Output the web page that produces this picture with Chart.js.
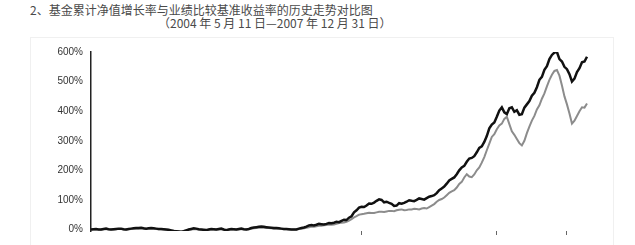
<!DOCTYPE html>
<html><head><meta charset="utf-8">
<script src="https://cdn.jsdelivr.net/npm/chart.js@4/dist/chart.umd.min.js"></script>
<style>
html,body{margin:0;padding:0;background:#fff;width:635px;height:245px;overflow:hidden;}
#wrap{position:relative;width:635px;height:245px;}
.t{position:absolute;font-family:"Noto Sans CJK SC","Noto Sans",sans-serif;font-size:12px;color:#4a4a4a;white-space:nowrap;line-height:14px;}
#frame{position:absolute;left:30px;top:37px;width:582px;height:212px;border:1px solid #f0f0f0;}
canvas{position:absolute;left:0;top:0;}
</style></head>
<body><div id="wrap">
<div id="frame"></div>
<div class="t" style="left:30px;top:3px;">2、基金累计净值增长率与业绩比较基准收益率的历史走势对比图</div>
<div class="t" style="left:158px;top:16px;">（2004 年 5 月 11 日—2007 年 12 月 31 日）</div>
<canvas id="c" width="635" height="245"></canvas>
</div>
<script>
// Series values (cumulative %), read along the period 2004-05-11 .. 2007-12-31
const fundGrowth = [
  0,1,2,0,0,2,3,1,0,1, 2,3,3,1,0,2,3,4,5,5, 6,4,3,4,5,4,3,2,2,1,
  0,-1,-3,-5,-6,-7,-8,-6,-3,0, 2,4,3,1,0,-1,-2,0,2,1, 0,2,3,0,-2,0,2,1,0,2,
  3,1,0,2,5,7,8,9,10,9, 8,7,6,5,5,4,3,2,2,1, 0,0,0,
  3,5,7,10,14,15,14,16,19,18, 17,19,22,21,23,26,25,29,33,32,
  40,45,58,65,74,77,76,81,88,87, 91,97,102,100,92,94,90,87,80,81,
  89,87,90,94,99,97,96,100,105,103, 101,106,111,113,116,123,133,139,145,155,
  166,171,176,187,200,210,215,229,240,242, 248,261,276,281,296,316,342,355,362,381,
  402,413,396,390,410,413,398,403,388,390, 412,423,434,452,462,481,506,516,540,552,
  576,590,598,600,576,568,550,542,525,500, 510,532,545,565,568,584];
const benchmark = [
  0,0,1,0,-1,1,2,1,0,0, 1,2,2,0,-1,1,2,3,3,3, 4,3,2,3,3,3,2,1,1,0,
  -1,-2,-3,-4,-5,-6,-6,-5,-3,-1, 0,1,1,0,-1,-2,-2,-1,0,0, -1,0,1,-1,-2,-1,0,0,-1,0,
  1,1,0,1,3,4,5,6,6,6, 5,5,4,3,3,3,2,1,1,0, 0,0,0,
  2,3,4,6,8,10,9,11,13,13, 14,15,17,16,17,19,22,23,24,26,
  30,35,41,45,50,52,53,55,57,56, 56,58,60,60,59,61,63,63,62,65,
  67,68,65,66,68,68,70,69,68,71, 73,71,76,81,86,94,100,103,108,116,
  124,129,133,142,154,161,176,187,179,177, 186,200,210,226,245,268,290,313,322,339,
  352,358,374,381,356,332,320,306,292,284, 300,326,348,368,384,406,420,442,460,484,
  506,523,536,539,520,487,450,423,392,358, 368,384,400,413,412,426];
const startDate = '2004-05-11', endDate = '2007-12-31';
const yTicks = [0,100,200,300,400,500,600];
const yTickLabels = ['0%','100%','200%','300%','400%','500%','600%'];
const xTickIdx = [108,162,190];

// categories: sample dates across the period
const categories = (function(){
  const s = new Date(startDate).getTime(), e = new Date(endDate).getTime(), n = fundGrowth.length;
  const out = [];
  for (let i=0;i<n;i++){ out.push(new Date(s + (e-s)*i/(n-1)).toISOString().slice(0,10)); }
  return out;
})();

new Chart(document.getElementById('c'), {
  type: 'line',
  data: {
    labels: categories,
    datasets: [
      {label:'基金累计净值增长率', data: fundGrowth, borderColor:'#111', borderWidth:2.5, pointRadius:0, tension:0},
      {label:'业绩比较基准收益率', data: benchmark, borderColor:'#8c8c8c', borderWidth:2, pointRadius:0, tension:0}
    ]
  },
  options: {
    responsive:false, animation:false,
    layout:{padding:{left:0,right:48,top:52,bottom:0}},
    plugins:{legend:{display:false}, tooltip:{enabled:false}, title:{display:false}},
    scales:{
      x:{
        offset:false,
        grid:{display:true, drawOnChartArea:false, drawTicks:true, tickLength:4, color:'#666'},
        border:{display:false},
        ticks:{display:false},
        afterBuildTicks:(s)=>{ s.ticks = xTickIdx.map(v=>({value:v})); },
        afterFit:(s)=>{ s.height = 6; }
      },
      y:{
        min:-5, max:600,
        grid:{display:false, drawTicks:false},
        border:{display:true, color:'#222', width:1.5},
        afterBuildTicks:(s)=>{ s.ticks = yTicks.map(v=>({value:v})); },
        ticks:{padding:8, color:'#333', font:{family:'Liberation Sans', size:10},
          callback:(v)=>{ const k = yTicks.indexOf(v); return k>=0 ? yTickLabels[k] : ''; }},
        afterFit:(s)=>{ s.width = 91; }
      }
    }
  }
});
</script>
</body></html>
